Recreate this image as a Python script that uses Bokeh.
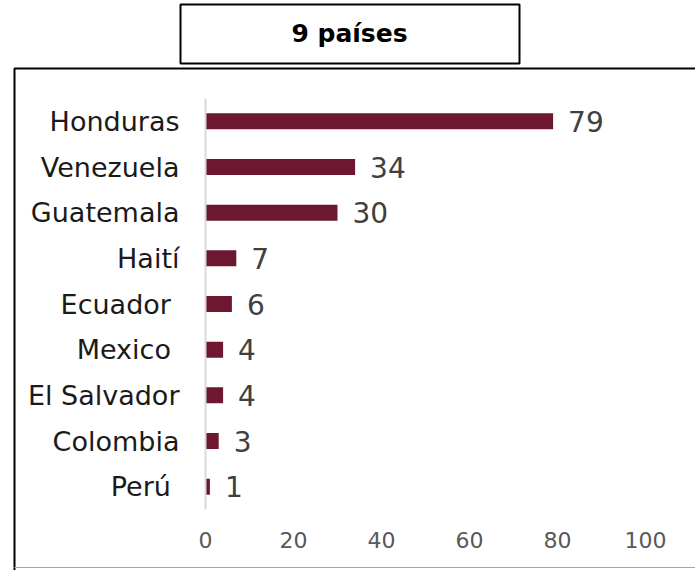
from bokeh.plotting import figure
from bokeh.models import ColumnDataSource, Range1d, FixedTicker, BoxAnnotation, Label, LinearAxis
from bokeh.core.properties import value
from bokeh.embed import file_html
from bokeh.resources import INLINE

title_text = "9 países"
countries = ["Honduras", "Venezuela", "Guatemala", "Haití", "Ecuador ", "Mexico ", "El Salvador", "Colombia", "Perú "]
counts = [79, 34, 30, 7, 6, 4, 4, 3, 1]
x_ticks = [0, 20, 40, 60, 80, 100]

LABEL_FONT = "DejaVu Sans"
NUM_FONT = "DejaVu Sans"
BAR_COLOR = "#6d1830"

W, H = 695, 570
# layout of the plotting area in pixels
X0_PX, X100_PX = 205, 645          # where 0 and 100 sit
BAND_TOP_PX, BAND_BOT_PX = 98, 509  # extent of the category bands
n = len(countries)
px_per_x = (X100_PX - X0_PX) / 100.0
px_per_band = (BAND_BOT_PX - BAND_TOP_PX) / n

y_pos = list(range(n))  # 0 = first category (top)
y_top_val = -0.5 - BAND_TOP_PX / px_per_band
y_bot_val = n - 0.5 + (H - BAND_BOT_PX) / px_per_band

source = ColumnDataSource(data=dict(y=y_pos, count=counts,
                                    label=[str(c) for c in counts]))

p = figure(width=W, height=H, min_border=0,
           x_range=Range1d(-X0_PX / px_per_x, (W - X0_PX) / px_per_x),
           y_range=Range1d(y_bot_val, y_top_val),
           x_axis_location=None, y_axis_location=None,
           output_backend="svg", toolbar_location=None)

p.hbar(y="y", right="count", left=0, height=0.35, source=source,
       fill_color=BAR_COLOR, line_color=None)

p.text(x="count", y="y", text="label", source=source,
       x_offset=15, text_align="left", text_baseline="middle",
       text_font=value(NUM_FONT), text_font_size="28px", text_color="#404040")

p.xgrid.visible = False
p.ygrid.visible = False
p.outline_line_color = None
p.background_fill_color = "white"
p.border_fill_color = "white"

yaxis = LinearAxis(fixed_location=0, bounds=(-0.5, n - 0.5),
                   ticker=FixedTicker(ticks=y_pos),
                   major_label_overrides={i: c for i, c in zip(y_pos, countries)})
yaxis.axis_line_color = "#d9d9d9"
yaxis.axis_line_width = 2
yaxis.major_tick_line_color = None
yaxis.minor_tick_line_color = None
yaxis.major_label_standoff = 20
yaxis.major_label_text_font = LABEL_FONT
yaxis.major_label_text_font_size = "27px"
yaxis.major_label_text_color = "#1a1a1a"
p.add_layout(yaxis, "left")

xaxis = LinearAxis(fixed_location=n - 0.5, ticker=FixedTicker(ticks=x_ticks))
xaxis.axis_line_color = None
xaxis.major_tick_line_color = None
xaxis.minor_tick_line_color = None
xaxis.major_label_standoff = 16
xaxis.major_label_text_font = NUM_FONT
xaxis.major_label_text_font_size = "22px"
xaxis.major_label_text_color = "#595959"
p.add_layout(xaxis, "below")

# outer panel border (left + top), and light bottom edge
p.add_layout(BoxAnnotation(left=14, right=720, top=68, bottom=620,
                           left_units="canvas", right_units="canvas",
                           top_units="canvas", bottom_units="canvas",
                           fill_alpha=0, line_color="black", line_alpha=1.0,
                           line_width=2, level="overlay"))
p.add_layout(BoxAnnotation(left=14, right=720, top=567, bottom=567,
                           left_units="canvas", right_units="canvas",
                           top_units="canvas", bottom_units="canvas",
                           fill_alpha=0, line_color="#a6a6a6", line_alpha=1.0,
                           line_width=1, level="overlay"))
# title box
p.add_layout(BoxAnnotation(left=180, right=519, top=4, bottom=63,
                           left_units="canvas", right_units="canvas",
                           top_units="canvas", bottom_units="canvas",
                           fill_alpha=0, line_color="black", line_alpha=1.0,
                           line_width=2, level="overlay"))
p.add_layout(Label(x=349, y=33, x_units="canvas", y_units="canvas", text=title_text,
                   text_align="center", text_baseline="middle",
                   text_font=LABEL_FONT, text_font_style="bold", text_font_size="25px",
                   text_color="black"))

open("out.html", "w").write(file_html(p, INLINE))
